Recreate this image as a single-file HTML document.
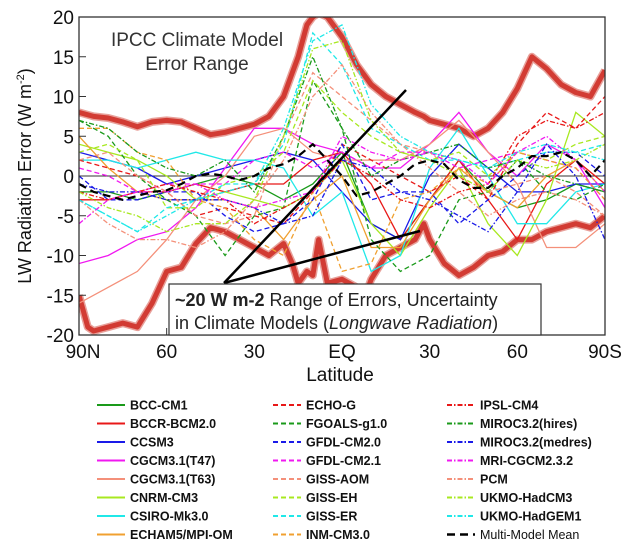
<!DOCTYPE html>
<html><head><meta charset="utf-8"><style>
body{margin:0;background:#fff;width:640px;height:545px;overflow:hidden}
svg{display:block;font-family:"Liberation Sans",Arial,sans-serif}
</style></head><body>
<svg id="c" width="640" height="545" viewBox="0 0 640 545"></svg>
<script>
const yTicks=[20,15,10,5,0,-5,-10,-15,-20];
const xTickLats=[90,60,30,0,-30,-60,-90];
const xTickLabels=["90N","60","30","EQ","30","60","90S"];
const envLats=[90,87,85,80,75,70,65,60,55,50,45,40,35,30,25,20,17,15,12,10,8,5,0,-5,-8,-10,-15,-20,-25,-28,-30,-35,-40,-45,-50,-55,-60,-65,-70,-75,-80,-85,-90];
const envUpper=[8,7.7,7.5,7.3,6.8,6.2,6.8,7,6.8,6,5.2,5.5,6,6.5,7.5,10,13,15,19,20,20.5,20,17.5,14,12.5,11.5,10,9,8,7.5,7,6.5,6,5,6,8,11,15,13.5,11.5,10.5,10,13.3];
const envLower=[-15,-19,-19.5,-19,-18.5,-19,-16,-12,-11.5,-8.5,-6.5,-7,-8,-9,-10,-8.5,-11,-13.5,-12,-12.5,-8,-13.5,-13,-14,-15,-13,-10,-9,-8,-6,-8,-11,-12.5,-11.5,-10,-9.5,-8,-8,-7,-6.5,-6,-6.5,-5];
const meanLats=[90,85,80,75,70,65,60,55,50,45,40,35,30,25,20,15,10,5,0,-5,-10,-15,-20,-25,-30,-35,-40,-45,-50,-55,-60,-65,-70,-75,-80,-85,-90];
const meanVals=[-1,-2,-2.5,-3,-2.5,-2,-1.8,-1,0,0.3,0,-0.5,0,1,1.5,2.5,4,2,0,-2.5,-2,-1,0,1.5,2,1.5,-0.5,-1.5,-1.5,0,1,2.5,2.5,3,2,0,2];
const modelLats=[90,80,70,60,50,40,30,20,10,0,-10,-20,-30,-40,-50,-60,-70,-80,-90];
const modelNames=["BCC-CM1","BCCR-BCM2.0","CCSM3","CGCM3.1(T47)","CGCM3.1(T63)","CNRM-CM3","CSIRO-Mk3.0","ECHAM5/MPI-OM","ECHO-G","FGOALS-g1.0","GFDL-CM2.0","GFDL-CM2.1","GISS-AOM","GISS-EH","GISS-ER","INM-CM3.0","IPSL-CM4","MIROC3.2(hires)","MIROC3.2(medres)","MRI-CGCM2.3.2","PCM","UKMO-HadCM3","UKMO-HadGEM1"];
const modelColors=["#1a9a1a","#e81818","#1a1ae8","#f018f0","#f4907a","#a8e820","#20e8e8","#f0a030","#e81818","#1a9a1a","#1a1ae8","#f018f0","#f4907a","#a8e820","#20e8e8","#f0a030","#e81818","#1a9a1a","#1a1ae8","#f018f0","#f4907a","#a8e820","#20e8e8"];
const modelStyles=["solid","solid","solid","solid","solid","solid","solid","solid","dash","dash","dash","dash","dash","dash","dash","dash","dashdot","dashdot","dashdot","dashdot","dashdot","dashdot","dashdot"];
const m00=[-2,-2,-3,-2,-1,0,-1,-3,-1,3,-6,-8,-3,2,-2,-4,-3,-1,-2];
const m01=[-3,-3,-2,-2,-1,-2,-1,-1,2,3,-1,-8,-3,2,-3,-8,-1,2,-1];
const m02=[3,2,1,-1,0,1,2,3,2,-2,-6,-8,0,4,1,-2,-2,-1,-1];
const m03=[-11,-10,-8,-7,-4,1,6,6,4,3,1,1,4,8,3,0,4,2,-4];
const m04=[-16,-14,-12,-8,-3,0,5,6,3,2,2,2,4,7,3,-1,-9,-9,-6];
const m05=[4,3,2,0,-3,-2,-3,-4,-2,2,-6,-10,-4,1,-6,-10,-3,8,5];
const m06=[2,2,1,2,3,2,2,1,-5,-2,-12,-10,1,6,0,-6,-6,-2,-1];
const m07=[5,1,-2,-3,-3,-3,-4,-8,-3,0,-9,-9,-3,1,-2,-4,0,2,-2];
const m08=[2,1,0,-2,-5,-4,-5,-6,-2,4,2,0,-2,0,-3,4,8,6,10];
const m09=[7,5,0,-3,-5,-10,-5,-4,12,6,-8,-12,-10,-3,-2,2,-2,-3,-1];
const m10=[0,-3,-3,-2,-2,-5,-7,-6,-3,4,-3,-2,-2,-6,-3,0,3,3,0];
const m11=[1,0,-2,-1,-1,-1,2,3,1,3,1,3,3,1,2,3,2,1,-3];
const m12=[2,3,0,-2,-5,-6,-5,5,13,10,7,4,3,0,-2,-1,0,-2,-5];
const m13=[3,4,2,-4,-4,-1,0,3,12,8,5,3,2,3,0,3,2,4,5];
const m14=[-3,-5,-7,-4,-3,-1,-1,4,18,14,6,4,2,2,1,2,3,3,4];
const m15=[6,6,3,2,-3,-4,-8,-10,-2,-12,-11,-3,-2,1,-1,3,2,1,-3];
const m16=[-2,-3,-2,-1,-2,-3,-6,-4,-2,2,0,-3,-4,-2,-1,5,7,6,8];
const m17=[7,6,3,1,0,2,-2,5,15,6,0,2,3,4,1,2,0,-1,-2];
const m18=[-1,-2,-2,-3,-3,-3,-4,-6,-5,2,1,-2,-3,-5,-7,-2,4,0,-8];
const m19=[-6,-3,-2,-2,-1,-3,-4,-3,-2,5,3,2,3,2,-1,3,5,2,-2];
const m20=[-3,-6,-8,-8,-9,-7,-3,2,10,14,8,4,1,-2,-5,-3,-2,-3,-5];
const m21=[-2,-4,-5,-7,-6,-6,-3,5,16,17,7,3,2,0,-2,2,1,2,4];
const m22=[-3,-5,-7,-5,-3,-2,-1,6,17,19,9,5,3,2,1,3,4,3,2];
const modelVals=[m00,m01,m02,m03,m04,m05,m06,m07,m08,m09,m10,m11,m12,m13,m14,m15,m16,m17,m18,m19,m20,m21,m22];

const NS="http://www.w3.org/2000/svg";
const svg=document.getElementById('c');
const L=79,R=605,T=17,B=335;
const X=lat=>L+(90-lat)/180*(R-L);
const Y=v=>T+(20-v)/40*(B-T);
function mk(tag,attrs,parent){const e=document.createElementNS(NS,tag);for(const k in attrs)e.setAttribute(k,attrs[k]);(parent||svg).appendChild(e);return e;}
function pts(lats,vals){return lats.map((la,i)=>X(la).toFixed(1)+','+Y(vals[i]).toFixed(1)).join(' ');}
const dashes={solid:"",dash:"5,3",dashdot:"5,2,1.5,2"};

const clip=mk('clipPath',{id:'pc'});mk('rect',{x:L,y:T,width:R-L,height:B-T},clip);
const g=mk('g',{'clip-path':'url(#pc)'});



// envelope
[[envUpper,'upper'],[envLower,'lower']].forEach(([v,n])=>{
  const h=mk('polyline',{points:pts(envLats,v),fill:'none',stroke:'#e8a09a','stroke-width':8,'stroke-linejoin':'round'},g);
  
  
  const e=mk('polyline',{points:pts(envLats,v),fill:'none',stroke:'#d23b33','stroke-width':5,'stroke-linejoin':'round'},g);
  
  
});
// zero line
const z=mk('line',{x1:L,x2:R,y1:Y(0),y2:Y(0),stroke:'#333','stroke-width':1},g);


// models
modelVals.forEach((v,i)=>{
  const p=mk('polyline',{points:pts(modelLats,v),fill:'none',stroke:modelColors[i],'stroke-width':1.3,'stroke-dasharray':dashes[modelStyles[i]]},g);
  
  
});
const mm=mk('polyline',{points:pts(meanLats,meanVals),fill:'none',stroke:'#000','stroke-width':2.2,'stroke-dasharray':'8,5'},g);



// frame
const fr=mk('rect',{x:L,y:T,width:R-L,height:B-T,fill:'none',stroke:'#333','stroke-width':1.3});



// y ticks
yTicks.forEach(t=>{
  const tl=mk('line',{x1:L,x2:L+7,y1:Y(t),y2:Y(t),stroke:'#333'});
  
  
  const tx=mk('text',{x:L-5,y:Y(t)+7,'text-anchor':'end','font-size':19,fill:'#111'});
  tx.textContent=t;
  
  
});
xTickLats.forEach((la,i)=>{
  const tl=mk('line',{x1:X(la),x2:X(la),y1:B,y2:B-7,stroke:'#333'});
  
  
  const tx=mk('text',{x:X(la)+(i===0?4:0),y:B+23,'text-anchor':'middle','font-size':19,fill:'#111'});
  tx.textContent=xTickLabels[i];
  
  
});
</script>
<svg width="640" height="545" style="position:absolute;left:0;top:0">
<text x="340" y="381" text-anchor="middle" font-size="19" fill="#111">Latitude</text>
<text transform="translate(31,176) rotate(-90)" text-anchor="middle" font-size="18" fill="#111">LW Radiation Error (W m<tspan dy="-7" font-size="11">-2</tspan><tspan dy="7">)</tspan></text>
<text x="197" y="46" text-anchor="middle" font-size="19" fill="#333">IPCC Climate Model</text>
<text x="197" y="70" text-anchor="middle" font-size="19" fill="#333">Error Range</text>
<line x1="224" y1="283" x2="406" y2="90" stroke="#000" stroke-width="2.5"/>
<line x1="224" y1="283" x2="420" y2="231" stroke="#000" stroke-width="2.5"/>
<rect x="169" y="284" width="372" height="51" fill="#fff" stroke="#333" stroke-width="1.2"/>
<text x="175" y="306" font-size="18" fill="#222"><tspan font-weight="bold">~20 W m-2</tspan> Range of Errors, Uncertainty</text>
<text x="175" y="329" font-size="18" fill="#222">in Climate Models (<tspan font-style="italic">Longwave Radiation</tspan>)</text>
</svg>
<svg id="lg" width="640" height="545" style="position:absolute;left:0;top:0"></svg>
<script>
(function(){
const lg=document.getElementById('lg');
const all=modelNames.concat(["Multi-Model Mean"]);
const cols=modelColors.concat(["#000"]);
const sty=modelStyles.concat(["mean"]);
const colX=[97,273,447];
all.forEach((n,i)=>{
  const c=Math.floor(i/8),r=i%8;
  const y=405+r*18.5;
  const ln=document.createElementNS(NS,'line');
  ln.setAttribute('x1',colX[c]);ln.setAttribute('x2',colX[c]+28);
  ln.setAttribute('y1',y);ln.setAttribute('y2',y);
  ln.setAttribute('stroke',cols[i]);
  ln.setAttribute('stroke-width',sty[i]==='mean'?2.5:2);
  ln.setAttribute('stroke-dasharray',sty[i]==='mean'?'8,5':dashes[sty[i]]);
  
  
  lg.appendChild(ln);
  const t=document.createElementNS(NS,'text');
  t.setAttribute('x',colX[c]+33);t.setAttribute('y',y+4.5);
  t.setAttribute('font-size','12.5');t.setAttribute('font-weight',sty[i]==='mean'?'normal':'bold');
  t.setAttribute('fill','#111');
  t.setAttribute('font-family','"Liberation Sans",Arial,sans-serif');
  t.textContent=n;
  
  
  lg.appendChild(t);
});
})();
</script>
</body></html>
